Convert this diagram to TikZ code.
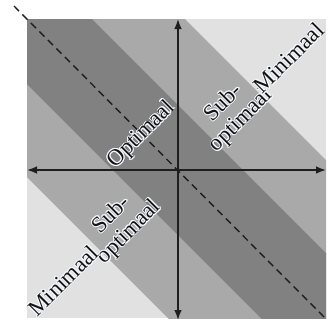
\documentclass[tikz,border=0pt]{standalone}
\usepackage{fontspec}
\setmainfont{Liberation Serif}
\usepackage{contour}
\contourlength{0.45pt}
\contournumber{12}
\usetikzlibrary{arrows.meta}
\definecolor{lightband}{RGB}{225,225,225}
\definecolor{midband}{RGB}{169,169,169}
\definecolor{darkband}{RGB}{129,129,129}
\definecolor{axiscol}{RGB}{30,30,30}
\definecolor{txtcol}{RGB}{20,20,20}
\definecolor{halocol}{RGB}{245,248,255}
\tikzset{
  axis/.style={line width=0.75pt, draw=axiscol, {Latex[length=5pt,width=3.8pt]}-{Latex[length=5pt,width=3.8pt]}},
  diag/.style={line width=0.7pt, draw=axiscol, dash pattern=on 3.6pt off 2.4pt},
  lab/.style={rotate=45, text=txtcol, font=\fontsize{11.4}{12.2}\selectfont, align=center, inner sep=0pt},
}
\newcommand{\halo}[1]{\contour{halocol}{#1}}
\begin{document}
\begin{tikzpicture}[x=0.5pt,y=-0.5pt]
\useasboundingbox (0,0) rectangle (328,333);
\fill[white] (0,0) rectangle (328,333);
\begin{scope}
  \clip (27,19) rectangle (326,318);
  \fill[lightband] (27,19) rectangle (326,318);
  \fill[midband] (135,-31) -- (535,369) -- (377,527) -- (-23,127) -- cycle;
  \fill[darkband] (42,-31) -- (442,369) -- (377,434) -- (-23,34) -- cycle;
\end{scope}
\coordinate (dtl) at (14,6);
\coordinate (dbr) at (327,320);
\draw[diag] (dtl) -- (dbr);
\coordinate (vt) at (178,19);
\coordinate (vb) at (178,320);
\coordinate (hl) at (27,170);
\coordinate (hr) at (326,170);
\draw[axis] (vb) -- (vt);
\draw[axis] (hl) -- (hr);
\node[lab] (opt) at (142,135) {\halo{Optimaal}};
\node[lab] (subur) at (233,112) {\halo{Sub-}\\\halo{optimaal}};
\node[lab] (minur) at (289,58) {\halo{Minimaal}};
\node[lab] (subll) at (121,224) {\halo{Sub-}\\\halo{optimaal}};
\node[lab] (minll) at (63.5,281) {\halo{Minimaal}};
\end{tikzpicture}
\end{document}
